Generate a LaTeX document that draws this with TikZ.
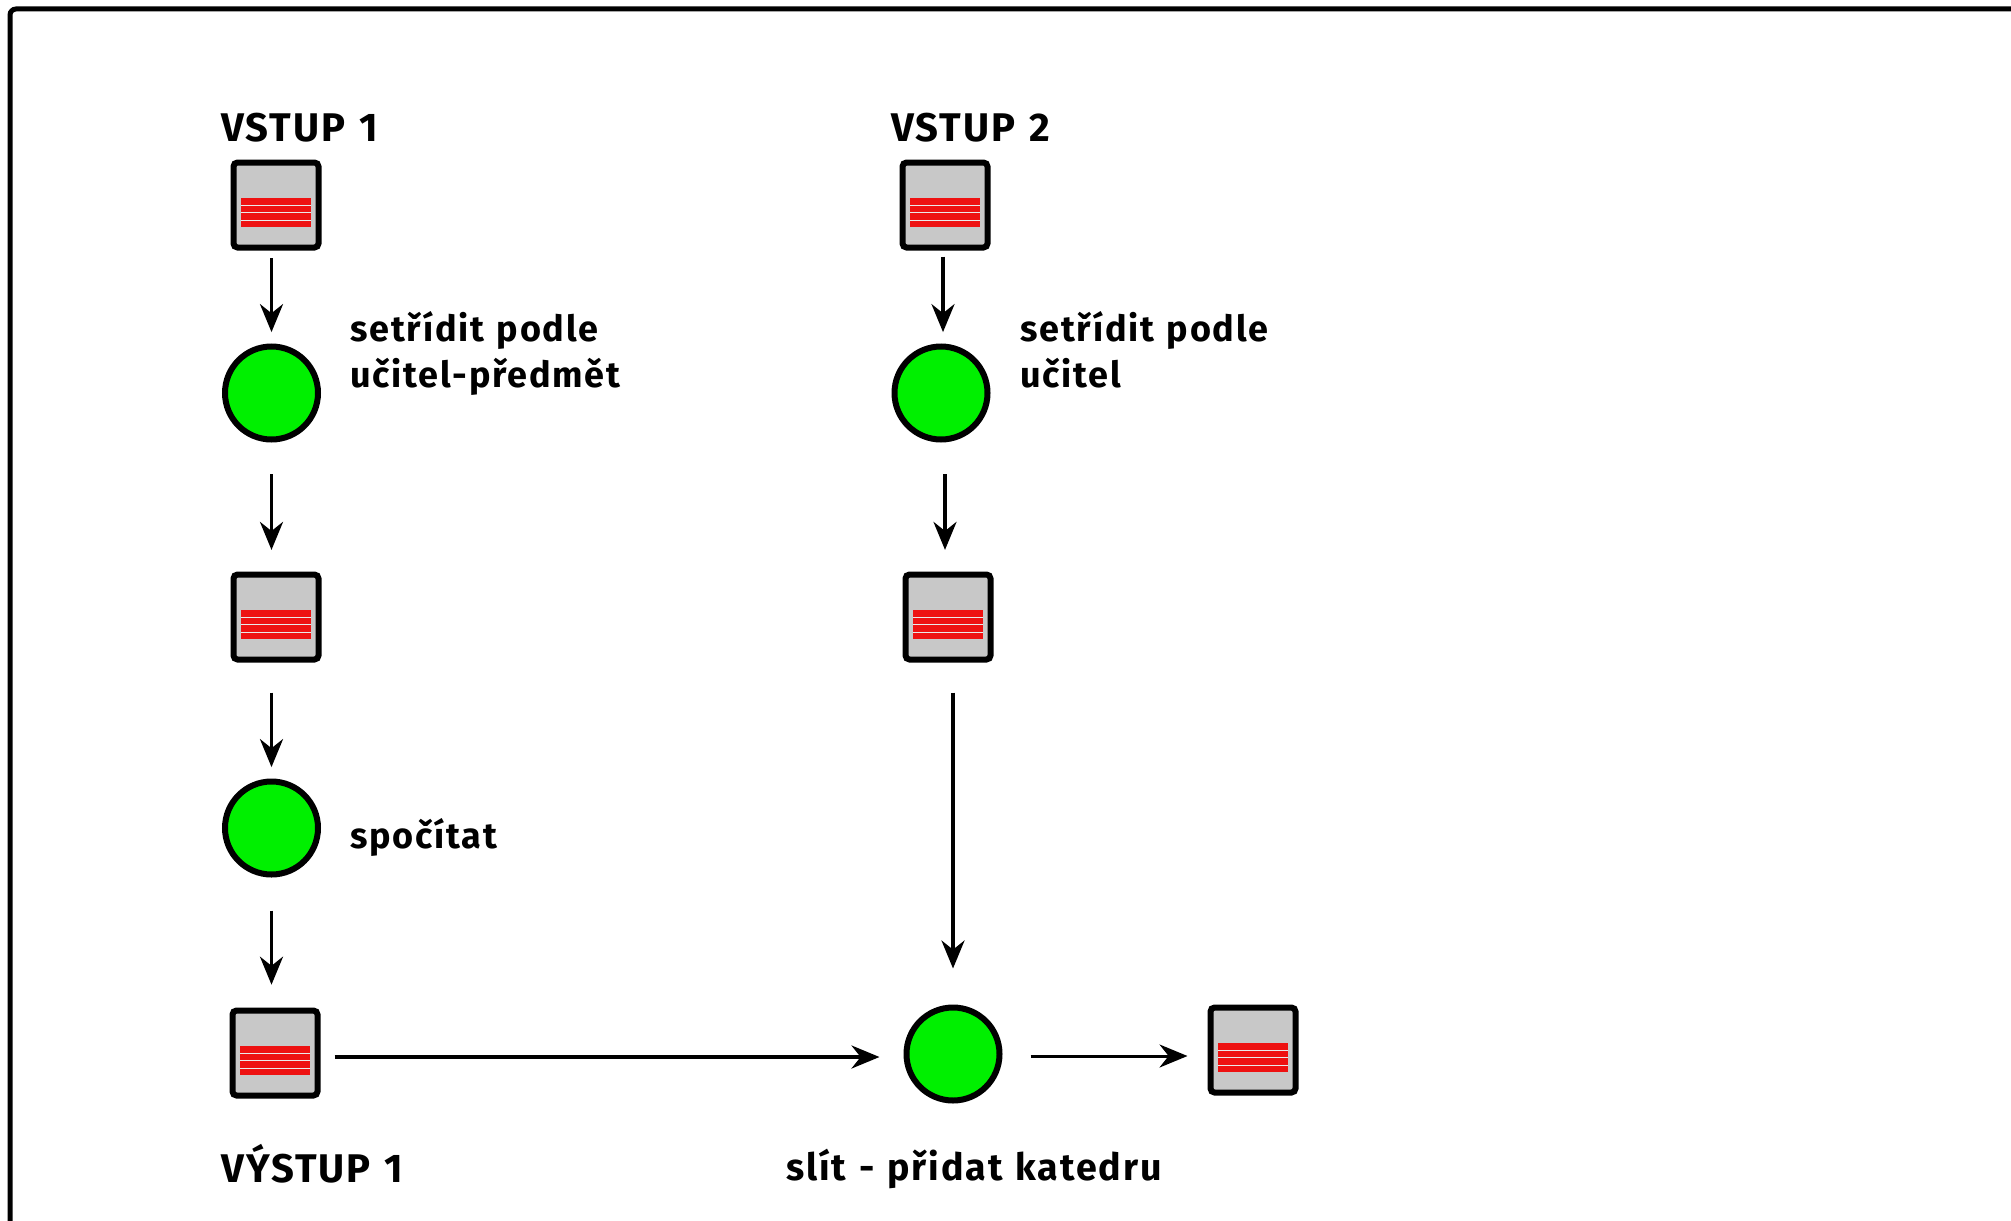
\documentclass[tikz,border=0pt]{standalone}
\usepackage{fontspec}
\setmainfont{Fira Sans}[LetterSpace=5,WordSpace=1.2]
\usetikzlibrary{arrows.meta,calc}
\definecolor{boxgrey}{HTML}{C8C8C8}
\definecolor{stripered}{HTML}{EE1111}
\definecolor{ballgreen}{HTML}{00F000}
\tikzset{
  x=0.5pt,y=-0.5pt,
  datafile/.style={draw=black,line width=3pt,fill=boxgrey,rounded corners=2pt,minimum size=42.5pt,inner sep=0pt},
  process/.style={circle,draw=black,line width=3pt,fill=ballgreen,minimum size=46.5pt,inner sep=0pt},
  flow/.style={draw=black,line width=1.8pt,-{Stealth[length=14pt,width=11.5pt]}},
  label/.style={anchor=base west,inner sep=0pt,font=\fontsize{18pt}{23pt}\selectfont\bfseries},
  caplabel/.style={label,font=\fontsize{20pt}{23pt}\selectfont\bfseries},
  frame/.style={draw=black,line width=2.5pt,rounded corners=3pt}
}
\begin{document}
\begin{tikzpicture}
\useasboundingbox (0,0) rectangle (2011,1220);
\draw[frame] (10,1230) -- (10,9) -- (2021,9);

\node[datafile] (s1) at (276,205) {};
\node[datafile] (s2) at (945,205) {};
\node[datafile] (s3) at (276,617) {};
\node[datafile] (s4) at (948,617) {};
\node[datafile] (s5) at (275,1053) {};
\node[datafile] (s6) at (1253,1050) {};
\foreach \n in {s1,s2,s3,s4,s5,s6}{
  \fill[stripered] ($(\n)+(-35,-7.5)$) rectangle ($(\n)+(35,22)$);
  \foreach \d in {0,7.5,15}
    \fill[boxgrey!40!white] ($(\n)+(-35,-0.5+\d)$) rectangle ($(\n)+(35,0.5+\d)$);
}
\node[process] (c1) at (271.5,393) {};
\node[process] (c2) at (941,393) {};
\node[process] (c3) at (271.5,828) {};
\node[process] (c4) at (953,1054) {};

\draw[flow,shorten <=3.8pt,shorten >=5.7pt] (s1.south -| c1.north) -- (c1.north);
\draw[flow,shorten <=3pt,shorten >=5.7pt] ([xshift=-1pt]s2.south) -- ([xshift=1pt]c2.north);
\draw[flow,shorten <=15.8pt,shorten >=10.8pt] (c1.south) -- (c1.south |- s3.north);
\draw[flow,shorten <=15.8pt,shorten >=10.8pt] ([xshift=2pt]c2.south) -- ([xshift=-1.5pt]s4.north);
\draw[flow,shorten <=15pt,shorten >=5.7pt] (s3.south -| c3.north) -- (c3.north);
\draw[flow,shorten <=15pt,shorten >=18pt] (s4.south -| c4.north) -- (c4.north);
\draw[flow,shorten <=16.5pt,shorten >=11.4pt] (c3.south) -- (c3.south |- s5.north);
\draw[flow,shorten <=7pt,shorten >=12pt] ([yshift=-2pt]s5.east) -- ([yshift=-1.5pt]c4.west);
\draw[flow,line width=1.5pt,shorten <=14pt,shorten >=10pt] ([yshift=-1pt]c4.east) -- ([yshift=-1pt]c4.east -| s6.west);

\node[caplabel] (t1) at (221,141) {VSTUP 1};
\node[caplabel] (t2) at (891,141) {VSTUP 2};
\node[label,align=left,anchor=north west] (t3) at (350,311) {setřídit podle\\učitel-předmět};
\node[label,align=left,anchor=north west] (t4) at (1020,311) {setřídit podle\\učitel};
\node[label] (t5) at (350,848) {spočítat};
\node[caplabel] (t6) at (221,1182) {VÝSTUP 1};
\node[label,font=\fontsize{18.8pt}{23pt}\selectfont\bfseries] (t7) at (786,1180) {slít - přidat katedru};
\end{tikzpicture}
\end{document}
